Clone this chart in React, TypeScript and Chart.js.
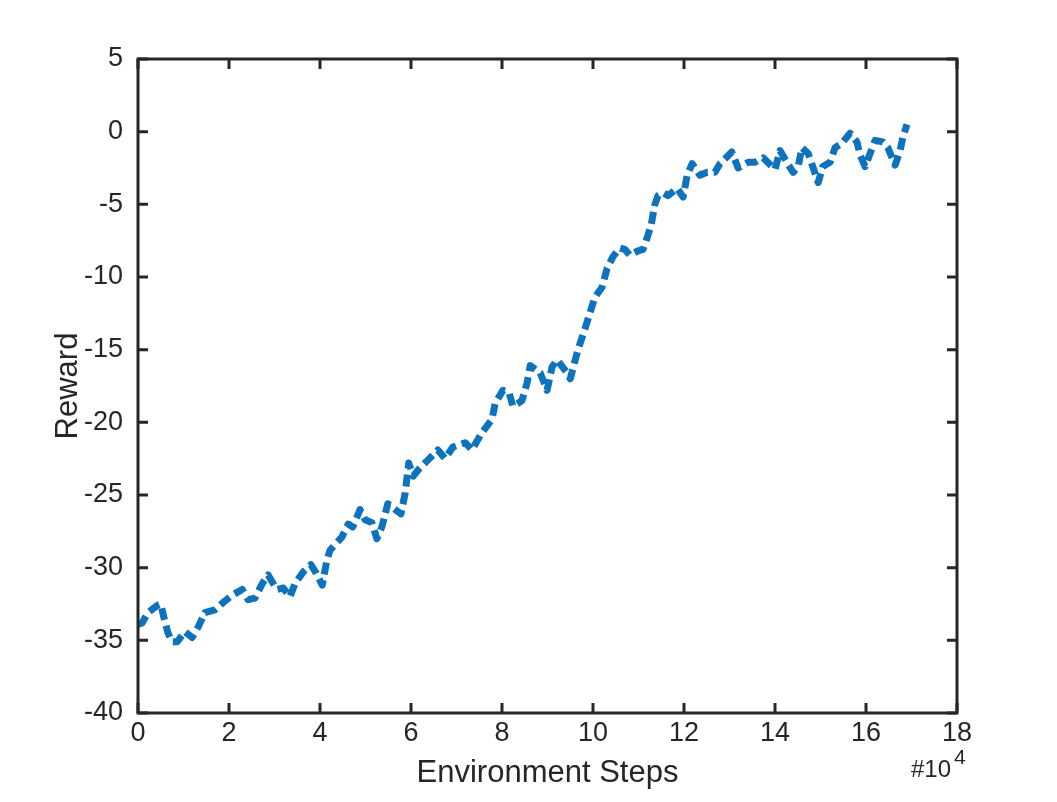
import React, { useEffect, useRef } from "react";
import { Chart, registerables } from "chart.js";

Chart.register(...registerables);

// Environment steps (x 10^4)
const steps: number[] = [
  0.0, 0.09, 0.22, 0.42, 0.5, 0.59, 0.66, 0.75, 0.86, 1.03, 1.19, 1.32, 1.47, 1.69, 1.87,
  2.07, 2.29, 2.42, 2.57, 2.73, 2.86, 3.05, 3.19, 3.34, 3.45, 3.63, 3.8, 3.92, 4.05, 4.15,
  4.22, 4.48, 4.62, 4.72, 4.88, 4.99, 5.14, 5.25, 5.36, 5.49, 5.65, 5.78, 5.87, 5.95, 6.05,
  6.15, 6.37, 6.59, 6.75, 6.92, 7.19, 7.34, 7.56, 7.78, 7.85, 8.02, 8.15, 8.24, 8.35, 8.44,
  8.55, 8.62, 8.84, 8.99, 9.1, 9.21, 9.43, 9.5, 9.67, 9.82, 9.93, 10.04, 10.2, 10.31, 10.44,
  10.59, 10.7, 10.81, 10.99, 11.1, 11.2, 11.28, 11.36, 11.43, 11.54, 11.65, 11.85, 11.98,
  12.07, 12.18, 12.35, 12.51, 12.68, 12.79, 13.05, 13.19, 13.41, 13.56, 13.74, 14.0, 14.11,
  14.26, 14.4, 14.51, 14.59, 14.73, 14.84, 14.95, 15.05, 15.21, 15.32, 15.47, 15.65, 15.8,
  15.87, 15.98, 16.09, 16.2, 16.37, 16.48, 16.64, 16.75, 16.81, 16.9,
];

const reward: number[] = [
  -33.9, -33.8, -33.1, -32.6, -32.5, -33.7, -34.5, -35.1, -35.1, -34.4, -34.8, -34.1, -33.1, -32.9, -32.4,
  -31.9, -31.5, -32.2, -32.1, -31.1, -30.5, -31.5, -31.4, -32.0, -31.1, -30.3, -29.8, -30.4, -31.2, -29.5,
  -28.8, -27.9, -27.0, -27.2, -26.0, -26.7, -26.9, -28.0, -27.2, -25.6, -26.0, -26.3, -24.9, -22.8, -23.7,
  -23.3, -22.6, -21.9, -22.5, -21.7, -21.4, -21.9, -20.7, -19.8, -18.7, -17.8, -17.9, -18.9, -18.7, -18.5,
  -17.3, -16.1, -16.6, -17.8, -16.2, -15.7, -16.6, -17.0, -15.0, -13.6, -12.5, -11.4, -10.7, -9.4, -8.6,
  -8.0, -8.1, -8.5, -8.2, -8.1, -7.2, -6.4, -5.0, -4.4, -4.2, -4.4, -3.9, -4.5,
  -3.0, -2.2, -3.0, -2.8, -2.8, -2.2, -1.4, -2.5, -2.1, -2.1, -1.8, -2.6, -1.3,
  -2.1, -2.8, -2.4, -1.1, -1.5, -2.5, -3.5, -2.4, -2.1, -1.1, -0.8, -0.1, -0.7,
  -1.6, -2.4, -1.5, -0.6, -0.7, -1.1, -2.3, -1.3, -0.4, 0.5,
];

const xTicks: number[] = [0, 2, 4, 6, 8, 10, 12, 14, 16, 18];
const yTicks: number[] = [-40, -35, -30, -25, -20, -15, -10, -5, 0, 5];

const AXIS = "#262626";
const FONT = "Arial, 'Liberation Sans', Helvetica, sans-serif";

const boxPlugin = {
  id: "boxPlugin",
  afterDatasetsDraw(chart: any) {
    const { ctx, chartArea } = chart;
    const { left, right, top, bottom } = chartArea;
    const xs = chart.scales.x;
    const ys = chart.scales.y;
    ctx.save();
    ctx.strokeStyle = AXIS;
    ctx.lineWidth = 3;
    ctx.lineCap = "butt";
    ctx.beginPath();
    ctx.rect(left, top, right - left, bottom - top);
    ctx.stroke();
    const tl = 10;
    ctx.beginPath();
    for (const v of xTicks) {
      const px = xs.getPixelForValue(v);
      ctx.moveTo(px, bottom);
      ctx.lineTo(px, bottom - tl);
      ctx.moveTo(px, top);
      ctx.lineTo(px, top + tl);
    }
    for (const v of yTicks) {
      const py = ys.getPixelForValue(v);
      ctx.moveTo(left, py);
      ctx.lineTo(left + tl, py);
      ctx.moveTo(right, py);
      ctx.lineTo(right - tl, py);
    }
    ctx.stroke();
    // exponent label
    ctx.fillStyle = AXIS;
    ctx.textBaseline = "alphabetic";
    ctx.textAlign = "left";
    ctx.font = `24px ${FONT}`;
    ctx.fillText("#10", 911, 777);
    const w = ctx.measureText("#10").width;
    ctx.font = `21px ${FONT}`;
    ctx.fillText("4", 911 + w + 3, 764);
    ctx.restore();
  },
};

export default function App() {
  const ref = useRef<HTMLCanvasElement | null>(null);

  useEffect(() => {
    if (!ref.current) return;
    const points = steps.map((s, i) => ({ x: s, y: reward[i] }));
    const chart = new Chart(ref.current, {
      type: "line",
      data: {
        datasets: [
          {
            data: points,
            borderColor: "#0F72BD",
            borderWidth: 7,
            borderDash: [12, 6],
            borderCapStyle: "butt",
            borderJoinStyle: "round",
            pointRadius: 0,
            tension: 0,
            fill: false,
          },
        ],
      },
      options: {
        responsive: false,
        animation: false,
        layout: { padding: { left: 0, top: 59, right: 100, bottom: 0 } },
        plugins: { legend: { display: false }, tooltip: { enabled: false } },
        scales: {
          x: {
            type: "linear",
            min: 0,
            max: 18,
            afterBuildTicks: (scale: any) => {
              scale.ticks = xTicks.map((v) => ({ value: v }));
            },
            afterFit: (scale: any) => {
              scale.height = 89;
            },
            grid: { display: false, drawTicks: false },
            border: { display: false },
            ticks: {
              color: AXIS,
              font: { family: FONT, size: 27 },
              padding: 4,
              maxRotation: 0,
              autoSkip: false,
            },
            title: {
              display: true,
              text: "Environment Steps",
              color: AXIS,
              font: { family: FONT, size: 31 },
              padding: { top: 0, bottom: 10 },
            },
          },
          y: {
            type: "linear",
            min: -40,
            max: 5,
            afterBuildTicks: (scale: any) => {
              scale.ticks = yTicks.map((v) => ({ value: v }));
            },
            afterFit: (scale: any) => {
              scale.width = 138;
            },
            grid: { display: false, drawTicks: false },
            border: { display: false },
            ticks: {
              color: AXIS,
              font: { family: FONT, size: 27 },
              padding: 15,
              autoSkip: false,
            },
            title: {
              display: true,
              text: "Reward",
              color: AXIS,
              font: { family: FONT, size: 31 },
              padding: { top: 50, bottom: 0 },
            },
          },
        },
      },
      plugins: [boxPlugin],
    });
    return () => chart.destroy();
  }, []);

  return (
    <div style={{ position: "absolute", left: 0, top: 0, width: 1057, height: 802, background: "#fff" }}>
      <canvas ref={ref} width={1057} height={802} style={{ display: "block" }} />
    </div>
  );
}
